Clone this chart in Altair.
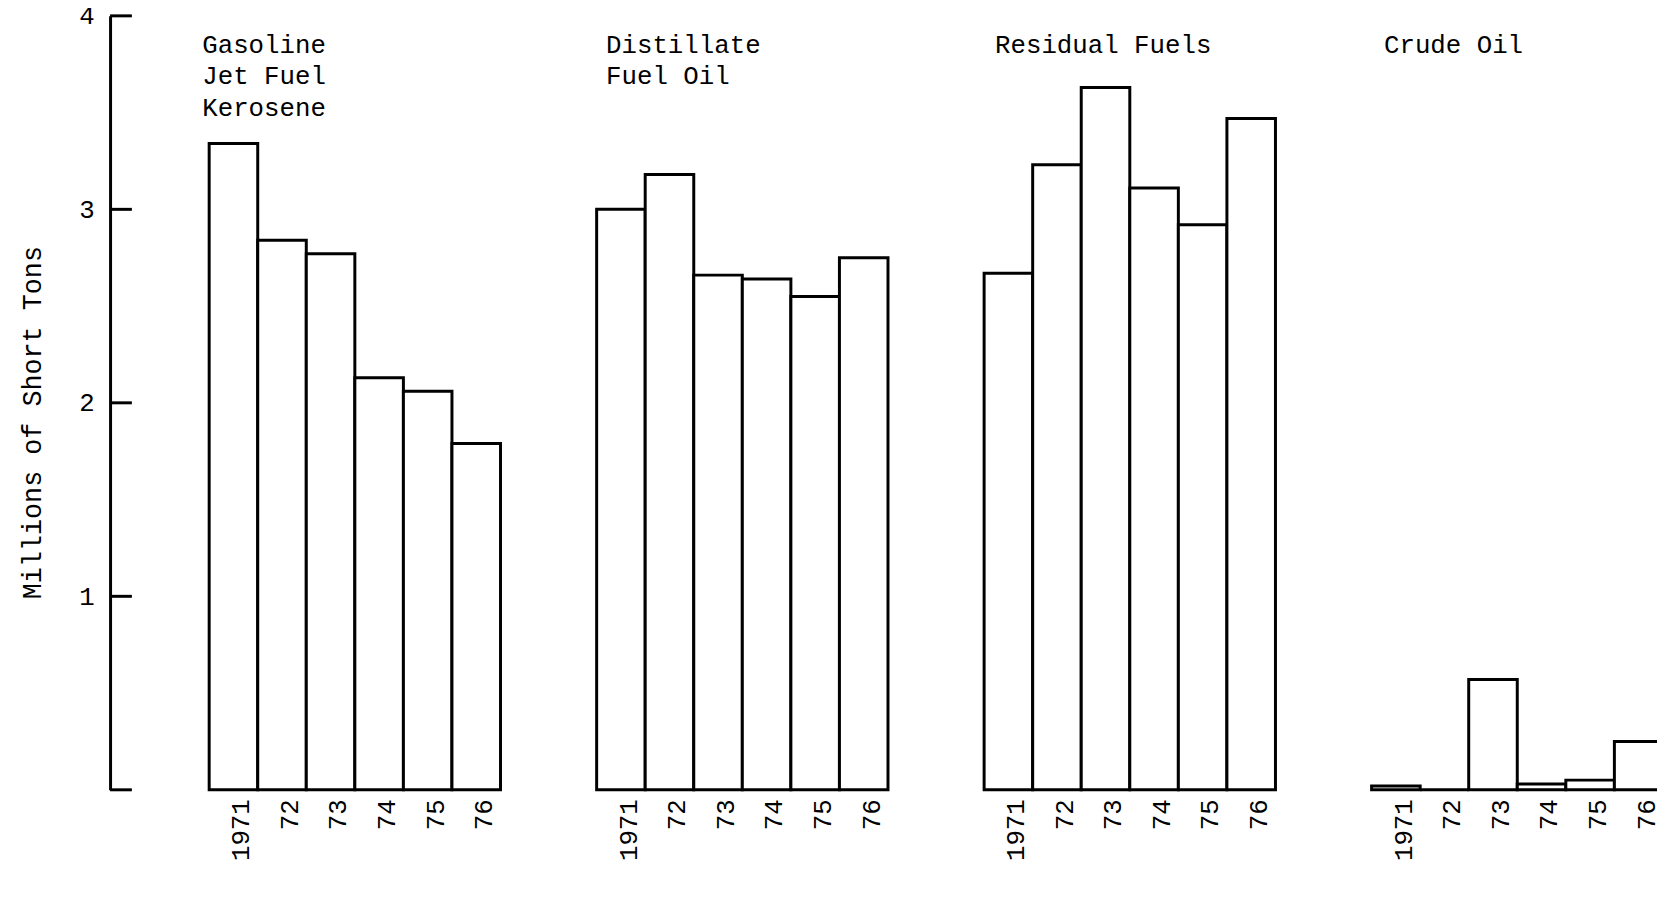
import altair as alt
import pandas as pd

years = ["1971", "72", "73", "74", "75", "76"]
gasoline = [3.34, 2.84, 2.77, 2.13, 2.06, 1.79]
distillate = [3.00, 3.18, 2.66, 2.64, 2.55, 2.75]
residual = [2.67, 3.23, 3.63, 3.11, 2.92, 3.47]
crude = [0.02, 0.0, 0.57, 0.03, 0.05, 0.25]
panel_titles = [["Gasoline", "Jet Fuel", "Kerosene"], ["Distillate", "Fuel Oil"],
                ["Residual Fuels"], ["Crude Oil"]]
y_ticks = [0, 1, 2, 3, 4]
y_labels = [1, 2, 3, 4]
y_title = "Millions of Short Tons"

FONT = "Liberation Mono"
W, H = 294, 781
title_dx = [-7, 9.5, 11, 12.5]


def panel(i, series):
    first = i == 0
    df = pd.DataFrame({"year": years, "value": series})
    if first:
        y_axis = alt.Axis(values=y_labels, ticks=False, domain=True, domainWidth=3,
                          domainColor="black", offset=100, labelPadding=16,
                          labelFontSize=26, labelFont=FONT, labelColor="black",
                          title=y_title, titleFont=FONT, titleFontSize=27,
                          titleFontWeight="normal", titleColor="black",
                          titlePadding=33, titleY=410, grid=False)
    else:
        y_axis = None
    y_enc = alt.Y("value:Q", scale=alt.Scale(domain=[0, 4], nice=False, zero=True), axis=y_axis)
    x_enc = alt.X("year:N", sort=years,
                  scale=alt.Scale(paddingInner=0, paddingOuter=0),
                  axis=alt.Axis(labelAngle=270, domain=False, ticks=False, title=None,
                                labelFont=FONT, labelFontSize=26, labelColor="black",
                                labelPadding=9, labelOffset=8, grid=False))
    bars = alt.Chart(df).mark_bar(fill="white", stroke="black", strokeWidth=3).encode(
        x=x_enc, y=y_enc)
    label_df = pd.DataFrame({"panel": [i]})
    label = alt.Chart(label_df).mark_text(
        text=panel_titles[i], font=FONT, fontSize=26, fontWeight="normal", align="left",
        baseline="alphabetic", lineHeight=32, color="black"
    ).encode(x=alt.value(title_dx[i]), y=alt.value(37))
    layers = [bars, label]
    if first:
        tick_df = pd.DataFrame({"value": y_ticks})
        ticks = alt.Chart(tick_df).mark_rule(color="black", strokeWidth=3).encode(
            y=y_enc, x=alt.value(-100), x2=alt.value(-78))
        layers.append(ticks)
    return alt.layer(*layers).properties(width=W, height=H)


chart = alt.hconcat(
    *[panel(i, s) for i, s in enumerate([gasoline, distillate, residual, crude])],
    spacing=93
).properties(
    background="white",
    padding={"left": 10, "top": -9, "right": -8, "bottom": 5},
).configure_view(stroke=None)

chart.save("out.html", embed_options={"renderer": "svg", "actions": False})
